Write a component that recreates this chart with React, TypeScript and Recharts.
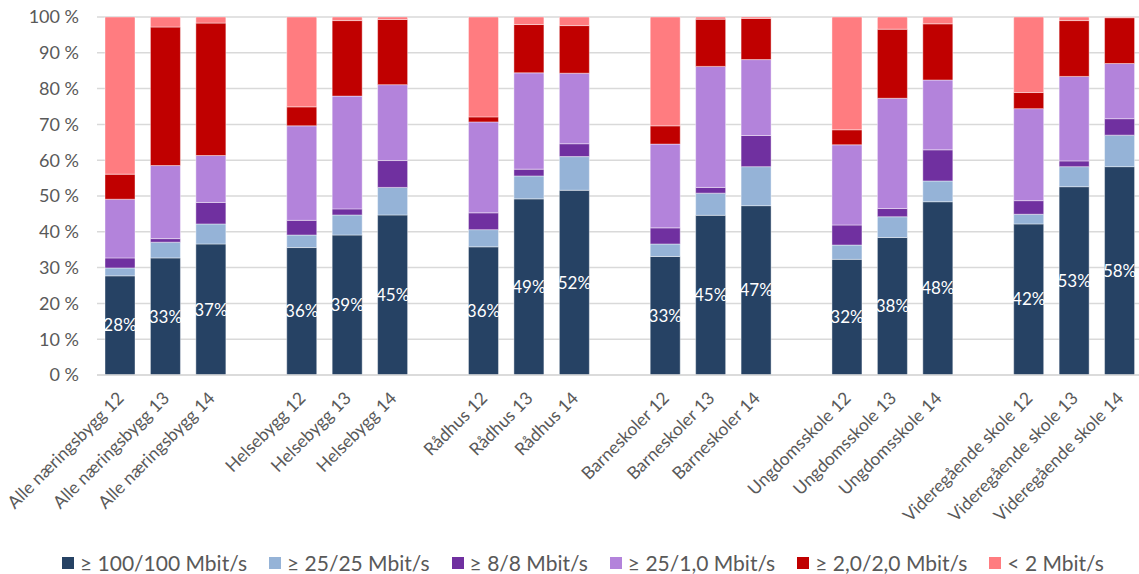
import React from 'react';
import { BarChart, Bar, XAxis, YAxis, CartesianGrid, LabelList } from 'recharts';

// Building categories, three survey years each
const categories = [
  'Alle næringsbygg 12', 'Alle næringsbygg 13', 'Alle næringsbygg 14',
  'Helsebygg 12', 'Helsebygg 13', 'Helsebygg 14',
  'Rådhus 12', 'Rådhus 13', 'Rådhus 14',
  'Barneskoler 12', 'Barneskoler 13', 'Barneskoler 14',
  'Ungdomsskole 12', 'Ungdomsskole 13', 'Ungdomsskole 14',
  'Videregående skole 12', 'Videregående skole 13', 'Videregående skole 14',
];

// Share of buildings (%) per bandwidth class
const fast100 = [27.7, 32.7, 36.6, 35.6, 39.1, 44.7, 35.8, 49.2, 51.6, 33.1, 44.6, 47.3, 32.3, 38.4, 48.4, 42.2, 52.6, 58.2];
const sym25 = [2.2, 4.4, 5.6, 3.5, 5.6, 7.7, 4.8, 6.4, 9.4, 3.5, 6.2, 10.9, 4.0, 5.8, 5.8, 2.7, 5.6, 8.8];
const sym8 = [2.8, 1.0, 6.0, 4.1, 1.7, 7.5, 4.7, 1.9, 3.6, 4.5, 1.6, 8.7, 5.6, 2.3, 8.7, 3.8, 1.6, 4.6];
const asym25 = [16.4, 20.4, 13.1, 26.4, 31.5, 21.2, 25.4, 26.9, 19.7, 23.4, 33.8, 21.2, 22.4, 30.8, 19.5, 25.7, 23.6, 15.4];
const sym2 = [7.0, 38.7, 37.0, 5.3, 21.1, 18.2, 1.4, 13.5, 13.3, 5.1, 13.2, 11.5, 4.2, 19.3, 15.7, 4.5, 15.6, 12.8];
const under2 = [43.9, 2.8, 1.7, 25.1, 1.0, 0.7, 27.9, 2.1, 2.4, 30.4, 0.6, 0.4, 31.5, 3.4, 1.9, 21.1, 1.0, 0.2];

const yTicks = [0, 10, 20, 30, 40, 50, 60, 70, 80, 90, 100];

const series = [
  { key: 'fast100', name: '≥ 100/100 Mbit/s', color: '#264264', values: fast100 },
  { key: 'sym25', name: '≥ 25/25 Mbit/s', color: '#95b3d7', values: sym25 },
  { key: 'sym8', name: '≥ 8/8 Mbit/s', color: '#7030a0', values: sym8 },
  { key: 'asym25', name: '≥ 25/1,0 Mbit/s', color: '#b383db', values: asym25 },
  { key: 'sym2', name: '≥ 2,0/2,0 Mbit/s', color: '#c00000', values: sym2 },
  { key: 'under2', name: '< 2 Mbit/s', color: '#ff7c80', values: under2 },
];

// Rows for the chart: an empty slot separates each group of three years
const rows: Record<string, any>[] = [];
categories.forEach((cat, i) => {
  if (i > 0 && i % 3 === 0) rows.push({ name: '' });
  const row: Record<string, any> = { name: cat };
  series.forEach((s) => { row[s.key] = s.values[i]; });
  rows.push(row);
});

const FONT = 'Lato, "Open Sans", sans-serif';
const AXIS_Y = 375;

const XTick = (props: any) => {
  const { x, payload } = props;
  if (!payload.value) return null;
  const tx = x + 1;
  const ty = AXIS_Y + 20;
  return (
    <text
      x={tx}
      y={ty}
      dy="0.35em"
      textAnchor="end"
      transform={`rotate(-45, ${tx}, ${ty})`}
      fill="#595959"
      fontSize={17.5}
      fontFamily={FONT}
    >
      {payload.value}
    </text>
  );
};

export default function App() {
  return (
    <div style={{ position: 'absolute', left: 0, top: 0, width: 1139, height: 574, overflow: 'hidden', background: '#fff' }}>
      <BarChart
        width={1142}
        height={574}
        data={rows}
        margin={{ top: 17, right: 0, left: 0, bottom: 49 }}
        barSize={30}
      >
        <CartesianGrid vertical={false} stroke="#d9d9d9" strokeWidth={1.5} />
        <XAxis
          dataKey="name"
          interval={0}
          tick={<XTick />}
          tickLine={false}
          axisLine={{ stroke: '#d9d9d9', strokeWidth: 1.5 }}
          height={150}
        />
        <YAxis
          width={97}
          domain={[0, 100]}
          ticks={yTicks}
          tickFormatter={(v: number) => `${v} %`}
          tickLine={false}
          axisLine={false}
          tickMargin={12}
          tick={{ fill: '#595959', fontSize: 18, fontFamily: FONT }}
          allowDataOverflow
        />
        {series.map((s, idx) => (
          <Bar
            key={s.key}
            dataKey={s.key}
            name={s.name}
            stackId="a"
            fill={s.color}
            stroke="rgba(255,255,255,0.55)"
            strokeWidth={0.75}
            isAnimationActive={false}
          >
            {idx === 0 && (
              <LabelList
                dataKey={s.key}
                position="center"
                fill="#ffffff"
                fontSize={17}
                fontFamily={FONT}
                formatter={(v: any) => (v == null ? '' : `${Math.round(v)}%`)}
              />
            )}
          </Bar>
        ))}
      </BarChart>
      <div
        style={{
          position: 'absolute',
          top: 550,
          left: 62,
          width: 1042,
          display: 'flex',
          justifyContent: 'space-between',
          fontFamily: FONT,
          fontSize: 21,
          color: '#595959',
          whiteSpace: 'nowrap',
          lineHeight: '26px',
        }}
      >
        {series.map((s) => (
          <div key={s.key} style={{ display: 'flex', alignItems: 'center' }}>
            <span style={{ display: 'inline-block', width: 12, height: 12, background: s.color, marginRight: 6 }} />
            <span>{s.name}</span>
          </div>
        ))}
      </div>
    </div>
  );
}
